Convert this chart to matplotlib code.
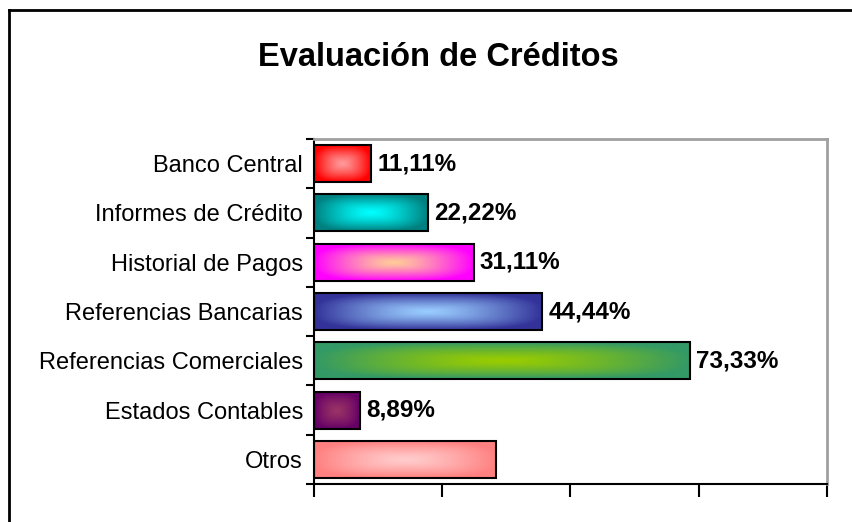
import numpy as np
import matplotlib
matplotlib.use("Agg")
import matplotlib.pyplot as plt
from matplotlib.lines import Line2D

categories = ["Banco Central", "Informes de Crédito", "Historial de Pagos",
              "Referencias Bancarias", "Referencias Comerciales",
              "Estados Contables", "Otros"]
values = [11.11, 22.22, 31.11, 44.44, 73.33, 8.89, 35.56]
value_labels = ["11,11%", "22,22%", "31,11%", "44,44%", "73,33%", "8,89%", ""]
x_ticks = [0, 25, 50, 75, 100]
title = "Evaluación de Créditos"

edge_colors = ["#FF0000", "#008080", "#FF00FF", "#333399", "#339966", "#660066", "#FF8080"]
center_colors = ["#FF9999", "#00FFFF", "#FFCC99", "#99CCFF", "#99CC00", "#993366", "#FFCCCC"]

plt.rcParams['font.family'] = ['Liberation Sans', 'DejaVu Sans']

fig = plt.figure(figsize=(8.53, 5.22), dpi=100)
ax = fig.add_axes([314/853, 1-484/522, (827-314)/853, (484-139)/522])

bar_h = 0.75
ypos = np.arange(len(categories))


def hex2rgb(h):
    return np.array(matplotlib.colors.to_rgb(h))


for i, (v, ec, cc) in enumerate(zip(values, edge_colors, center_colors)):
    n, m = 300, 60
    xx = np.linspace(-1, 1, n)
    yy = np.linspace(-1, 1, m)
    X, Y = np.meshgrid(xx, yy)
    p = 3.0
    t = (np.abs(X) ** p + np.abs(Y) ** p) ** (1 / p)
    t = np.clip(t, 0, 1) ** 1.3
    e = hex2rgb(ec)
    c = hex2rgb(cc)
    img = c[None, None, :] + (e - c)[None, None, :] * t[:, :, None]
    ax.imshow(img, extent=(0, v, i + bar_h / 2, i - bar_h / 2), aspect='auto',
              interpolation='bilinear', zorder=2)

ax.barh(ypos, values, height=bar_h, facecolor='none', edgecolor='black',
        linewidth=1.5, zorder=3)

for i, (v, lab) in enumerate(zip(values, value_labels)):
    if lab:
        ax.text(v + 1.2, i, lab, va='center', ha='left', fontsize=17.5,
                fontweight='bold', color='black')

ax.set_xlim(0, 100)
ax.set_ylim(len(categories) - 0.5, -0.5)
ax.set_xticks(x_ticks)
ax.set_xticklabels([])
ax.tick_params(axis='x', direction='out', length=9, width=1.5, color='black')
ax.set_yticks(ypos)
ax.set_yticklabels(categories, fontsize=17)
ax.tick_params(axis='y', which='major', length=0, pad=8)
ax.set_yticks(np.arange(-0.5, len(categories), 1), minor=True)
ax.tick_params(axis='y', which='minor', direction='out', length=6, width=1.5)

for s in ['left', 'bottom']:
    ax.spines[s].set_color('black')
    ax.spines[s].set_linewidth(1.5)
for s in ['top', 'right']:
    ax.spines[s].set_color('#a0a0a0')
    ax.spines[s].set_linewidth(2)

fig.text(438/853, 1 - 58/522, title, ha='center', va='center', fontsize=23.5,
         fontweight='bold')

fig.add_artist(Line2D([9/853, 9/853], [0, 1 - 10/522], transform=fig.transFigure,
                      color='black', linewidth=2))
fig.add_artist(Line2D([9/853, 1], [1 - 10/522, 1 - 10/522], transform=fig.transFigure,
                      color='black', linewidth=2))

fig.savefig("out.png", dpi=100)
